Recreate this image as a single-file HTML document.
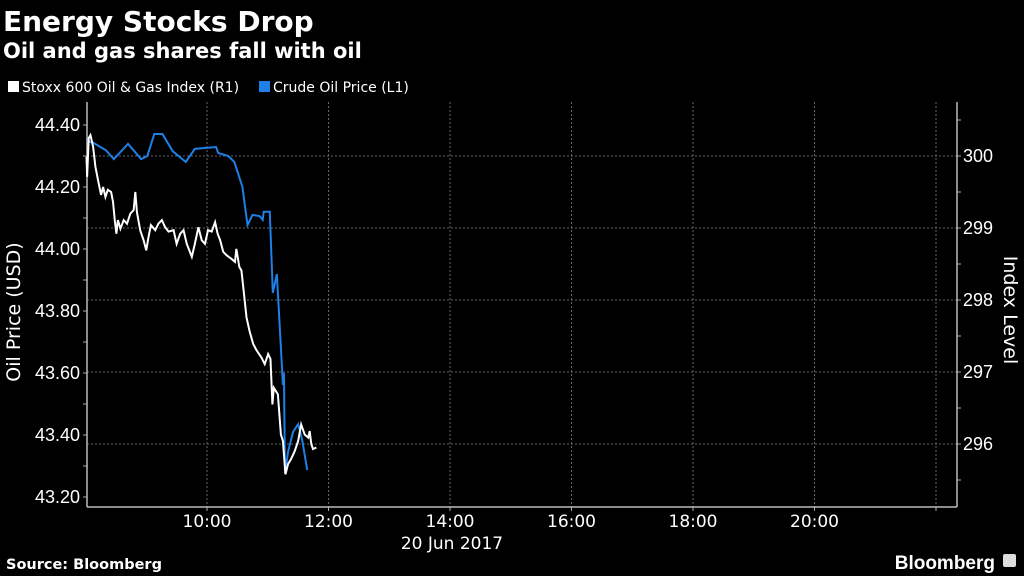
<!DOCTYPE html>
<html><head><meta charset="utf-8"><style>
body{margin:0;background:#000;width:1024px;height:576px;overflow:hidden;font-family:"Liberation Sans",sans-serif;color:#fff}
svg{position:absolute;left:0;top:0}
.dv{font-family:"DejaVu Sans",sans-serif}
</style></head><body>
<svg width="1024" height="576">
<text class="dv" x="3" y="31" font-size="28" font-weight="bold" fill="#fff">Energy Stocks Drop</text>
<text class="dv" x="3" y="58" font-size="21" font-weight="bold" fill="#fff">Oil and gas shares fall with oil</text>
<g>
<rect x="8" y="81" width="11" height="11" fill="#fff"/>
<text class="dv" x="22" y="92" font-size="14" fill="#fff">Stoxx 600 Oil &amp; Gas Index (R1)</text>
<rect x="259" y="81" width="11" height="11" fill="#1e7fe6"/>
<text class="dv" x="273" y="92" font-size="14" fill="#fff">Crude Oil Price (L1)</text>
</g>
<g id="grid"></g>
<g id="axes"></g>
<polyline id="oil" fill="none" stroke="#1e7fe6" stroke-width="2"/>
<polyline id="idx" fill="none" stroke="#fff" stroke-width="2"/>
<text class="dv" transform="translate(20,312) rotate(-90)" text-anchor="middle" font-size="19" fill="#fff">Oil Price (USD)</text>
<text class="dv" transform="translate(1004,310) rotate(90)" text-anchor="middle" font-size="19" fill="#fff">Index Level</text>
<text class="dv" x="452" y="549" text-anchor="middle" font-size="17" fill="#fff">20 Jun 2017</text>
<text class="dv" x="6" y="569" font-size="14.5" font-weight="bold" fill="#fff">Source: Bloomberg</text>
<text x="995" y="569" text-anchor="end" font-size="19" font-weight="bold" fill="#fff">Bloomberg</text>
<rect x="1003" y="554" width="13" height="13" rx="2" fill="#ddd"/>
</svg>
<script>
const xTicks=["10:00","12:00","14:00","16:00","18:00","20:00"];
const xTickMin=[120,240,360,480,600,720];
const leftTicks=[43.2,43.4,43.6,43.8,44.0,44.2,44.4];
const rightTicks=[296,297,298,299,300];
const oilT=[2,8,20,28,42,55,61,68,76,86,99,108,129,131,141,147,155,160,165,172,175,176,182,185,189,195,196,197,200,205,210,214,219];
const oilV=[44.348,44.342,44.319,44.29,44.339,44.29,44.30,44.371,44.371,44.316,44.281,44.323,44.329,44.31,44.30,44.281,44.2,44.077,44.11,44.106,44.094,44.12,44.12,43.858,43.919,43.561,43.6,43.277,43.345,43.41,43.435,43.384,43.287];
const idxT=[1,1.6,3.2,4.9,7.5,9.8,13,15.4,17.4,19.7,22,25.3,27.2,28.9,30.5,32,34.5,37.7,41,44.3,47.6,49.2,50.8,54,57.4,60,62.3,64.6,68.9,72,75.4,78.7,82,87,90,93.5,96.8,100,105,108,111.5,114.8,118,121,124.6,128,130.5,133,136,139.4,144.3,147.6,149,151.9,154,156.5,159,162,165.6,169,173.8,177,180.4,182.7,184.6,186,190,193,195,197.5,200,203,206.6,210,213,216.5,220,221.4,223,224.7,228];
const idxV=[299.99,299.71,300.25,300.29,300.13,299.85,299.62,299.46,299.57,299.43,299.53,299.50,299.36,299.11,298.92,299.11,298.99,299.11,299.06,299.20,299.25,299.50,299.22,298.97,298.83,298.69,298.88,299.04,298.97,299.06,299.11,299.01,298.95,298.97,298.78,298.92,298.97,298.78,298.60,298.78,299.01,298.83,298.78,298.97,298.95,299.08,298.92,298.83,298.67,298.62,298.57,298.53,298.71,298.46,298.41,298.09,297.76,297.57,297.39,297.30,297.20,297.11,297.25,297.18,296.55,296.78,296.69,296.13,296.04,295.58,295.72,295.79,295.90,296.04,296.27,296.13,296.09,296.18,296.00,295.93,295.95];
const X0=87,X1=957,Y0=102,Y1=507;
const xs=m=>85.5+m*60.75/60;
const yl=v=>125+(44.4-v)*310;
const yr=v=>156+(300-v)*72;
const NS="http://www.w3.org/2000/svg";
function mk(t,a,p){const e=document.createElementNS(NS,t);for(const k in a)e.setAttribute(k,a[k]);p.appendChild(e);return e;}
const grid=document.getElementById('grid'),axes=document.getElementById('axes');
xTickMin.concat([840]).forEach((m,i)=>{
 const g=mk('line',{x1:xs(m),x2:xs(m),y1:Y0,y2:Y1,stroke:'#666','stroke-dasharray':'2,2','stroke-width':1},grid);
 
 
 const t=mk('line',{x1:xs(m),x2:xs(m),y1:Y1,y2:Y1+4,stroke:'#aaa'},axes);
 
 
 if(i<xTicks.length){const l=mk('text',{x:xs(m),y:527,'text-anchor':'middle','font-size':17,fill:'#fff','font-family':'DejaVu Sans, sans-serif'},axes);l.textContent=xTicks[i];
 
 }
});
rightTicks.forEach(v=>{
 const g=mk('line',{x1:X0,x2:X1,y1:yr(v),y2:yr(v),stroke:'#666','stroke-dasharray':'2,2','stroke-width':1},grid);
 
 
 const l=mk('text',{x:963,y:yr(v)+6,'font-size':18,fill:'#fff'},axes);l.textContent=v;
 
 
});
for(let v=295.5;v<=300.6;v+=0.5){const t=mk('line',{x1:X1,x2:X1+4,y1:yr(v),y2:yr(v),stroke:'#aaa'},axes);
 
 }
for(let v=43.2;v<=44.45;v+=0.1){const t=mk('line',{x1:X0-4,x2:X0,y1:yl(v),y2:yl(v),stroke:'#aaa'},axes);
 
 }
leftTicks.forEach(v=>{const l=mk('text',{x:80,y:yl(v)+6,'text-anchor':'end','font-size':18,fill:'#fff'},axes);l.textContent=v.toFixed(2);
 
 });
[[X0,Y0,X0,Y1],[X1,Y0,X1,Y1],[X0,Y1,X1,Y1]].forEach(a=>{const e=mk('line',{x1:a[0],y1:a[1],x2:a[2],y2:a[3],stroke:'#bbb','stroke-width':1.5},axes);
 
 });
document.getElementById('oil').setAttribute('points',oilT.map((t,i)=>xs(t)+','+yl(oilV[i])).join(' '));
document.getElementById('idx').setAttribute('points',idxT.map((t,i)=>xs(t)+','+yr(idxV[i])).join(' '));
</script>
</body></html>
